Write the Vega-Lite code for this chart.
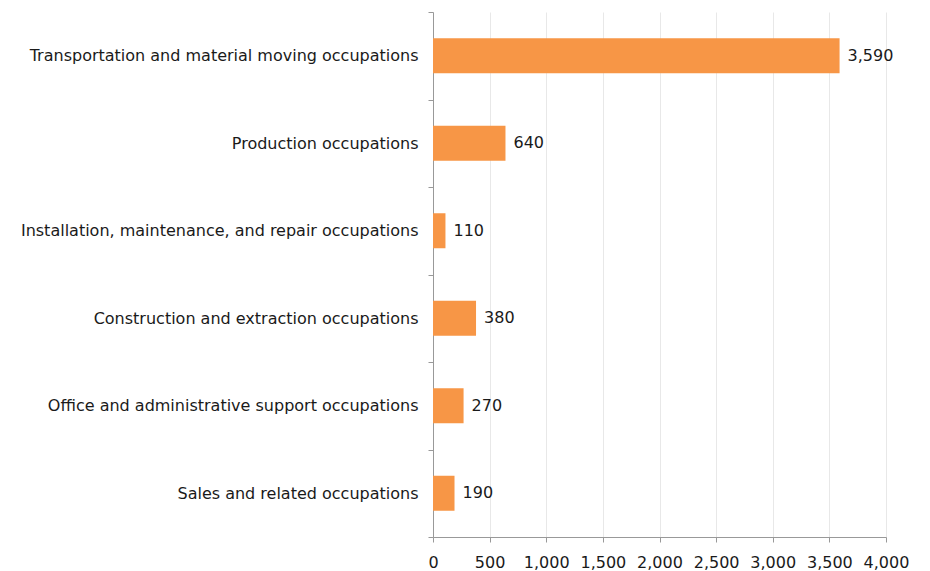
{
  "$schema": "https://vega.github.io/schema/vega-lite/v6.json",
  "autosize": "none",
  "width": 453,
  "height": 525,
  "padding": {"left": 433, "top": 12, "right": 44, "bottom": 34},
  "background": "white",
  "config": {
    "font": "DejaVu Sans",
    "view": {"stroke": null}
  },
  "data": {
    "values": [
      {"occupation": "Transportation and material moving occupations", "value": 3590},
      {"occupation": "Production occupations", "value": 640},
      {"occupation": "Installation, maintenance, and repair occupations", "value": 110},
      {"occupation": "Construction and extraction occupations", "value": 380},
      {"occupation": "Office and administrative support occupations", "value": 270},
      {"occupation": "Sales and related occupations", "value": 190}
    ]
  },
  "encoding": {
    "y": {
      "field": "occupation",
      "type": "nominal",
      "sort": null,
      "title": null,
      "scale": {"paddingInner": 0, "paddingOuter": 0},
      "axis": {
        "tickBand": "extent",
        "labelFontSize": 16,
        "labelColor": "#1a1a1a",
        "labelPadding": 10,
        "labelLimit": 500,
        "domainColor": "#999999",
        "tickColor": "#999999",
        "tickSize": 5,
        "grid": false
      }
    },
    "x": {
      "field": "value",
      "type": "quantitative",
      "title": null,
      "scale": {"domain": [0, 4000], "nice": false},
      "axis": {
        "values": [0, 500, 1000, 1500, 2000, 2500, 3000, 3500, 4000],
        "format": ",.0f",
        "labelFontSize": 16,
        "labelColor": "#1a1a1a",
        "labelPadding": 12,
        "domainColor": "#999999",
        "tickColor": "#999999",
        "tickSize": 5,
        "gridColor": "#e8e8e8",
        "labelFlush": false
      }
    }
  },
  "layer": [
    {"mark": {"type": "bar", "color": "#F79646", "height": {"band": 0.4}}},
    {
      "mark": {"type": "text", "align": "left", "dx": 8, "fontSize": 16, "color": "#1a1a1a"},
      "encoding": {"text": {"field": "value", "type": "quantitative", "format": ",.0f"}}
    }
  ]
}
